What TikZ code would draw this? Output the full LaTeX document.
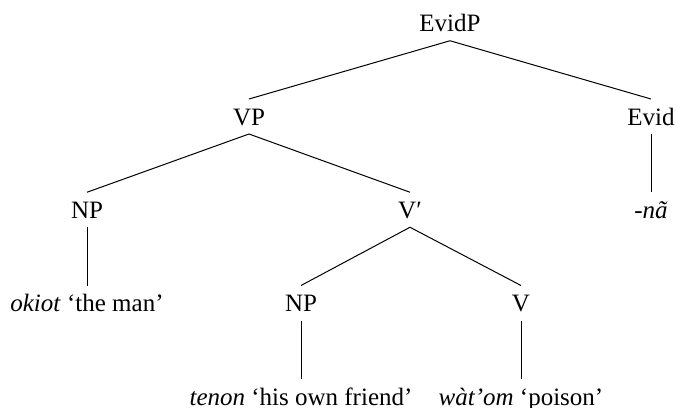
\documentclass[tikz,border=0pt]{standalone}
\usepackage{fontspec}
\setmainfont{Liberation Serif}

\begin{document}
\begin{tikzpicture}[-,node distance=37.3pt,main node/.style={text height=7pt,text depth=0pt,inner xsep=0pt,inner ysep=3.3pt}]
            \useasboundingbox (0,0) rectangle (270.4pt,-163.2pt);
            \node[main node] (evidp) at (180pt,-9.3pt) {EvidP};
            \node[main node] (vp) [below of=evidp, xshift = -80.4] {VP};
            \node[main node] (evid) [below of=evidp, xshift = 80.4] {Evid};
            \node[main node] (np1) [below of=vp, xshift = -64.8] {NP};
            \node[main node] (vbar) [below of=vp, xshift = 64.4] {V′};
            \node[main node] (na) [below of=evid] {\textit{-nã}};
            \node[main node] (okiot) [below of=np1] {\textit{okiot} ‘the man’};
            \node[main node] (np2) [below of=vbar, xshift = -43.6] {NP};
            \node[main node] (v) [below of=vbar, xshift = 44.4] {V};
            \node[main node] (tenon) [below of=np2] {\textit{tenon} ‘his own friend’};
            \node[main node] (watom) [below of=v] {\textit{wàt’om} ‘poison’};

            \path
                (evidp.south) edge (vp.north)
                (evidp.south) edge (evid.north)
                (vp.south) edge (np1.north)
                (vp.south) edge (vbar.north)
                (evid.south) edge (na.north)
                (np1.south) edge (okiot.north)
                (vbar.south) edge (np2.north)
                (vbar.south) edge (v.north)
                (np2.south) edge (tenon.north)
                (v.south) edge (watom.north)
                ;
        \end{tikzpicture}
\end{document}
